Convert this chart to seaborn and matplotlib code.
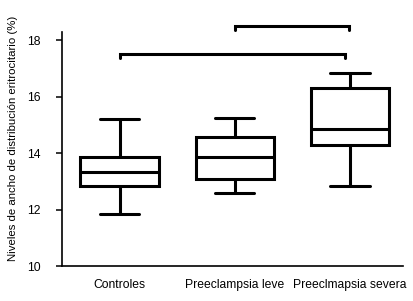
import numpy as np
import pandas as pd
import matplotlib
matplotlib.use("Agg")
import matplotlib.pyplot as plt
import seaborn as sns

# five-number summaries (min, q1, median, q3, max)
groups = ["Controles", "Preeclampsia leve", "Preeclmapsia severa"]
controles = [11.83, 12.83, 13.32, 13.85, 15.2]
leve = [12.6, 13.08, 13.87, 14.58, 15.23]
severa = [12.84, 14.28, 14.87, 16.29, 16.84]

# significance brackets: (start group, end group, height)
brackets = [(0, 1.96, 17.5), (1.0, 1.99, 18.5)]

df = pd.DataFrame({
    "grupo": np.repeat(groups, 5),
    "valor": controles + leve + severa,
})

sns.set_style("ticks", {"axes.edgecolor": "black", "text.color": "black",
                        "xtick.color": "black", "ytick.color": "black",
                        "axes.labelcolor": "black"})
plt.rcParams["font.family"] = ["Liberation Sans", "DejaVu Sans"]

fig = plt.figure(figsize=(4.13, 3.01), dpi=100)
ax = fig.add_axes([0.150, 0.116, 0.826, 0.779])

sns.boxplot(data=df, x="grupo", y="valor", ax=ax, whis=(0, 100),
            width=0.68, color="white", linecolor="black", linewidth=2.2,
            order=groups)

for x0, x1, y in brackets:
    ax.plot([x0, x0, x1, x1], [y - 0.15, y, y, y - 0.15], color="black",
            lw=2.2, clip_on=False, solid_joinstyle="miter")

ax.set_ylim(10, 18.3)
ax.set_xlim(-0.5, 2.46)
ax.set_yticks([10, 12, 14, 16, 18])
ax.set_xlabel("")
ax.set_ylabel("Niveles de ancho de distribución eritrocitario (%)", fontsize=8.2)
ax.yaxis.set_label_coords(-0.128, 0.545)
ax.tick_params(axis="y", labelsize=8.8, length=4.5, width=1.1, pad=11)
ax.tick_params(axis="x", labelsize=8.7, length=0, pad=9)
for s in ["top", "right"]:
    ax.spines[s].set_visible(False)
for s in ["left", "bottom"]:
    ax.spines[s].set_linewidth(1.2)

fig.savefig("out.png", dpi=100)
